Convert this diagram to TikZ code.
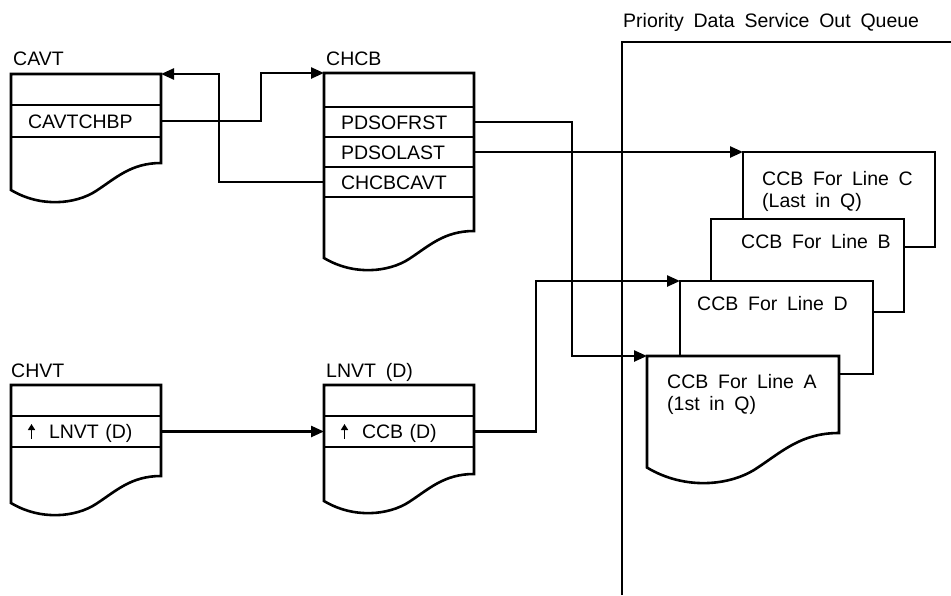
\documentclass[tikz,border=0pt]{standalone}
\usepackage{fontspec}
\setmainfont[WordSpace=1.8]{Liberation Sans}
\usetikzlibrary{positioning,arrows.meta}

\tikzset{
  blktext/.style  = {font=\fontsize{19.5}{23}\selectfont},
  blklabel/.style = {blktext, anchor=base west, inner sep=0pt},
  field/.style    = {draw, line width=1.5pt, minimum width=150pt, minimum height=#1,
                     text width=116pt, inner xsep=17pt, inner ysep=0pt, outer sep=0pt,
                     align=left, text height=14pt, text depth=0pt, blktext},
  field/.default  = 30pt,
  outline/.style  = {draw, line width=2.6pt, fill=white},
  ccb/.style      = {draw, line width=2.6pt, fill=white, anchor=north west,
                     inner sep=0pt, outer sep=0pt},
  link/.style     = {-{Triangle[length=13pt,width=11pt]}, line width=2.4pt},
  queue/.style    = {line width=2.6pt},
}

% control block: left, top, right, bottom of right edge
\newcommand\docblock[4]{%
  \pgfmathsetmacro\dbs{((#3)-(#1))/150}%
  \pgfmathsetmacro\dbt{((#2)-(#4))/\dbs}%
  \begin{scope}[shift={(#1,#4)}, scale=\dbs]
    \draw[outline] (0,\dbt) -- (150,\dbt) -- (150,0)
      .. controls (120,0) and (105,15) .. (85,28)
      .. controls (65,41) and (30,45) .. (0,27) -- cycle;
  \end{scope}}

\newcommand\ptrup{\tikz[baseline=0pt]\draw[line width=1.7pt,
  -{Triangle[length=6pt,width=7pt]}] (0pt,0pt) -- (0pt,14.5pt);}

\begin{document}
\begin{tikzpicture}[x=1pt, y=-1pt]
\useasboundingbox (0,0) rectangle (951,595);

% CAVT
\docblock{11}{74}{161}{163}
\node[blklabel] at (13,65) {CAVT};
\node[field=31pt, anchor=north west] (cavthd) at (11,74) {};
\node[field=32pt, below=0pt of cavthd] (cavtchbp) {CAVTCHBP};

% CHCB
\docblock{324}{73}{474}{231}
\node[blklabel] at (326,65) {CHCB};
\node[field=34pt, anchor=north west] (chcbhd) at (324,73) {};
\node[field, below=0pt of chcbhd] (pdsofrst) {PDSOFRST};
\node[field, below=0pt of pdsofrst] (pdsolast) {PDSOLAST};
\node[field, below=0pt of pdsolast] (chcbcavt) {CHCBCAVT};

% CHVT
\docblock{11}{385}{161}{476}
\node[blklabel] at (11,377) {CHVT};
\node[field=31pt, anchor=north west] (chvthd) at (11,385) {};
\node[field=31pt, below=0pt of chvthd] (chvtptr) {\ptrup\hspace{14pt}LNVT (D)};

% LNVT (D)
\docblock{324}{385}{474}{474}
\node[blklabel] at (326,377) {LNVT (D)};
\node[field=31pt, anchor=north west] (lnvthd) at (324,385) {};
\node[field=31pt, below=0pt of lnvthd] (lnvtptr) {\ptrup\hspace{14pt}CCB (D)};

% out queue
\coordinate (qbot) at (622,595);
\coordinate (qtop) at (622,42);
\coordinate (qend) at (951,42);
\draw[queue] (qbot) -- (qtop) -- (qend);
\node[blklabel] at (623,27) {Priority Data Service Out Queue};

% CCBs, last one first
\node[ccb, minimum width=192pt, minimum height=95pt] (ccbc) at (743,152) {};
\node[ccb, minimum width=193pt, minimum height=93pt] (ccbb) at (711,219) {};
\node[ccb, minimum width=193pt, minimum height=93pt] (ccbd) at (680,281) {};
\docblock{647}{356}{839}{433}
\coordinate (ccba) at (647,356);

\node[blklabel] (ccbclbl) at ([shift={(19,33)}]ccbc.north west) {CCB For Line C};
\node[blklabel] at ([yshift=-22pt]ccbclbl.base west) {(Last in Q)};
\node[blklabel] at ([shift={(30,29)}]ccbb.north west) {CCB For Line B};
\node[blklabel] at ([shift={(17,29)}]ccbd.north west) {CCB For Line D};
\node[blklabel] (ccbalbl) at ([shift={(20,32)}]ccba) {CCB For Line A};
\node[blklabel] at ([yshift=-22pt]ccbalbl.base west) {(1st in Q)};

% pointers
\draw[link] (cavtchbp.east) -- ++(100,0) |- (chcbhd.north west);
\draw[link] (chcbcavt.west) -- ++(-105,0) |- (cavthd.north east);
\draw[link] (pdsofrst.east) -- ++(98,0) |- (ccba);
\draw[link] (pdsolast.east) -- (ccbc.north west);
\draw[link] (chvtptr.east) -- (lnvtptr.west);
\draw[link] (lnvtptr.east) -- ++(62,0) |- (ccbd.north west);

\end{tikzpicture}
\end{document}
